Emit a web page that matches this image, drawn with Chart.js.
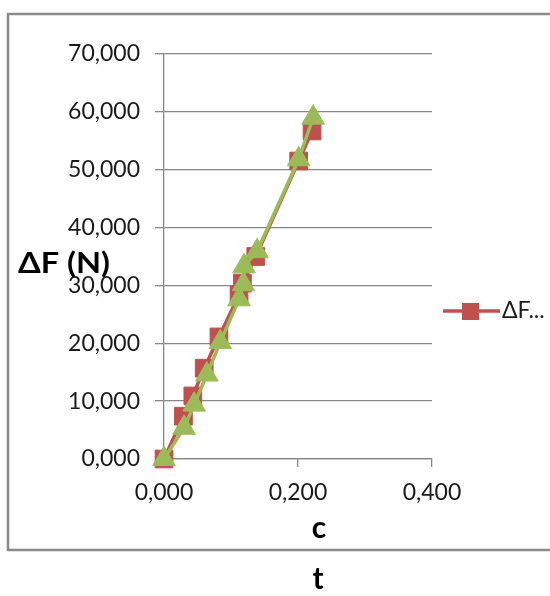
<!DOCTYPE html>
<html lang="pt">
<head>
<meta charset="UTF-8" />
<title>ΔF (N)</title>
<script src="https://cdn.jsdelivr.net/npm/chart.js"></script>
<style>
  html, body { margin: 0; padding: 0; background: #fff; }
  #myChart { display: block; }
</style>
</head>
<body>
<canvas id="myChart" width="550" height="596"></canvas>
<script>
// data (x = c, y = ΔF in N)
const redX = [0.000, 0.029, 0.043, 0.060, 0.082, 0.112, 0.117, 0.137, 0.201, 0.221];
const redY = [0.0, 7.4, 10.9, 15.7, 21.1, 28.4, 30.4, 35.0, 51.5, 56.7];
const greenX = [0.000, 0.030, 0.045, 0.064, 0.084, 0.112, 0.1185, 0.1195, 0.139, 0.201, 0.2226];
const greenY = [0.0, 5.4, 9.4, 14.6, 20.2, 27.6, 30.2, 33.3, 35.9, 51.8, 59.0];
const legendLabel = "ΔF...";
const yTitle = "ΔF (N)";
const xTitle = "c";
const bottomText = "t";

const RED = "#C0504D";
const GREEN = "#9BBB59";
const GRID = "#878787";
const TEXT = "#1a1a1a";

const toPoints = (xs, ys) => xs.map((x, i) => ({ x: x, y: ys[i] }));
const fmt = v => Number(v).toFixed(3).replace(".", ",");

// frame, horizontal axis titles and the one-entry legend
const decorations = {
  id: "decorations",
  beforeDraw(chart) {
    const ctx = chart.ctx;
    ctx.save();
    ctx.fillStyle = "#fff";
    ctx.fillRect(0, 0, chart.width, chart.height);
    ctx.strokeStyle = "#8a8a8a";
    ctx.lineWidth = 2.5;
    ctx.strokeRect(8, 14, 600, 536);
    ctx.restore();
  },
  afterDraw(chart) {
    const ctx = chart.ctx;
    ctx.save();
    ctx.fillStyle = "#000";
    ctx.textBaseline = "middle";
    ctx.textAlign = "left";
    ctx.font = "bold 28px Lato";
    const w = ctx.measureText(yTitle).width;
    ctx.translate(18, 264);
    ctx.scale(92 / w, 1);
    ctx.fillText(yTitle, 0, 0);
    ctx.restore();

    ctx.save();
    ctx.fillStyle = "#000";
    ctx.textAlign = "center";
    ctx.textBaseline = "middle";
    ctx.font = "bold 30px Lato";
    ctx.fillText(xTitle, 319, 528);
    ctx.fillText(bottomText, 318, 579);

    // legend entry (only the red series shows)
    const ly = 311;
    ctx.strokeStyle = RED;
    ctx.lineWidth = 3.5;
    ctx.beginPath();
    ctx.moveTo(443, ly);
    ctx.lineTo(500, ly);
    ctx.stroke();
    ctx.fillStyle = RED;
    ctx.fillRect(462, ly - 8, 17, 17);
    ctx.fillStyle = TEXT;
    ctx.textAlign = "left";
    ctx.font = "23px Lato";
    ctx.fillText(legendLabel, 502, ly);
    ctx.restore();
  }
};

const ctx = document.getElementById("myChart").getContext("2d");

new Chart(ctx, {
  type: "scatter",
  data: {
    datasets: [
      {
        label: legendLabel,
        data: toPoints(redX, redY),
        showLine: true,
        clip: false,
        borderColor: RED,
        backgroundColor: RED,
        borderWidth: 3.5,
        pointStyle: "rect",
        pointRadius: 12.5,
        pointBorderWidth: 1,
        pointBorderColor: RED,
        order: 2
      },
      {
        label: "",
        data: toPoints(greenX, greenY),
        showLine: true,
        clip: false,
        borderColor: GREEN,
        backgroundColor: GREEN,
        borderWidth: 3.5,
        pointStyle: "triangle",
        pointRadius: 13,
        pointBorderWidth: 1,
        pointBorderColor: GREEN,
        order: 1
      }
    ]
  },
  options: {
    responsive: false,
    animation: false,
    layout: { padding: { top: 54, right: 118, bottom: 0, left: 0 } },
    plugins: {
      legend: { display: false },
      tooltip: { enabled: false }
    },
    scales: {
      x: {
        type: "linear",
        min: 0,
        max: 0.4,
        ticks: {
          stepSize: 0.2,
          color: TEXT,
          font: { family: "Lato", size: 23 },
          padding: 12,
          maxRotation: 0,
          callback: v => fmt(v)
        },
        grid: { drawOnChartArea: false, color: GRID, lineWidth: 1.3, tickLength: 8 },
        border: { color: GRID, width: 1.3 },
        afterFit(scale) {
          scale.height = 137;
          scale.paddingLeft = 0;
          scale.paddingRight = 0;
        }
      },
      y: {
        min: 0,
        max: 70,
        ticks: {
          stepSize: 10,
          color: TEXT,
          font: { family: "Lato", size: 23 },
          padding: 15,
          callback: v => fmt(v)
        },
        grid: { color: GRID, lineWidth: 1.3, tickLength: 9 },
        border: { color: GRID, width: 1.3 },
        afterFit(scale) {
          scale.width = 164;
          scale.paddingTop = 0;
          scale.paddingBottom = 0;
        }
      }
    }
  },
  plugins: [decorations]
});
</script>
</body>
</html>
